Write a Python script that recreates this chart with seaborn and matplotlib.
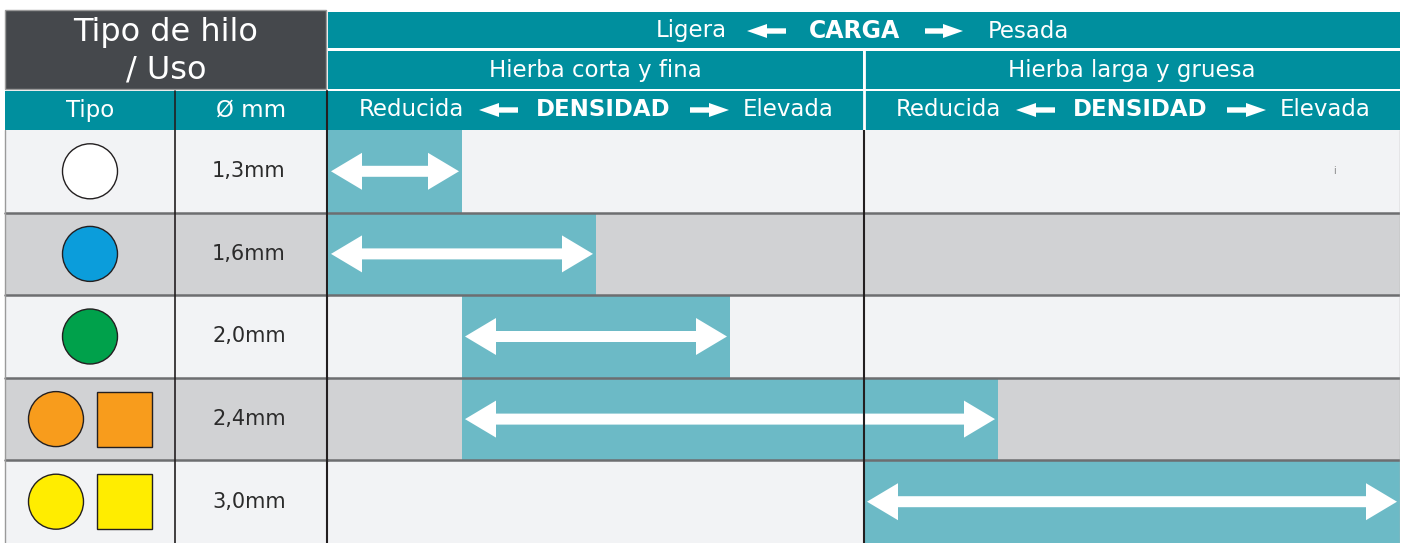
import matplotlib
matplotlib.use("Agg")
import matplotlib.pyplot as plt
from matplotlib.patches import Rectangle, Circle, Polygon
import seaborn as sns
import numpy as np

# datos de la tabla
diametros = ["1,3mm", "1,6mm", "2,0mm", "2,4mm", "3,0mm"]
colores_hilo = ["#FFFFFF", "#0B9DDB", "#00A14B", "#F89C1C", "#FFED00"]
con_cuadrado = [False, False, False, True, True]
inicio = [0, 0, 1, 1, 4]   # columna de densidad donde empieza el uso
fin = [1, 2, 3, 5, 8]      # columna donde termina
n_col = 8
tipos_hierba = ["Hierba corta y fina", "Hierba larga y gruesa"]

sns.set_style("white")
plt.rcParams['font.family'] = ['DejaVu Sans']

TEAL = "#008F9E"
BARRA = "#6CBAC6"
CLARO = "#F2F3F5"
GRIS = "#D1D2D4"
OSCURO = "#45484C"
TXT = "#2b2b2b"

W, H = 1407, 543
fig = plt.figure(figsize=(W / 100, H / 100), dpi=100)
ax0 = fig.add_axes([0, 0, 1, 1])
ax0.set_xlim(0, W)
ax0.set_ylim(H, 0)
ax0.axis('off')

top = 130
xb0, xb1 = 328, 1400
row_h = (H - top) / len(diametros)

# cabecera
ax0.add_patch(Rectangle((5, 10), 321, 79, color=OSCURO, ec="#9a9a9a", lw=1))
ax0.text(166, 33, "Tipo de hilo", color="white", fontsize=23, ha="center", va="center")
ax0.text(166, 70, "/ Uso", color="white", fontsize=23, ha="center", va="center")

ax0.add_patch(Rectangle((xb0, 12), xb1 - xb0, 36, color=TEAL, lw=0))
ax0.add_patch(Rectangle((xb0, 51), 535, 38, color=TEAL, lw=0))
ax0.add_patch(Rectangle((865, 51), xb1 - 865, 38, color=TEAL, lw=0))
ax0.add_patch(Rectangle((5, 91), xb1 - 5, 39, color=TEAL, lw=0))


def flecha(x_tail, x_tip, y, hl=20, hw=7, sw=2.7):
    d = np.sign(x_tip - x_tail)
    xb = x_tip - d * hl
    pts = [(x_tail, y - sw), (xb, y - sw), (xb, y - hw), (x_tip, y),
           (xb, y + hw), (xb, y + sw), (x_tail, y + sw)]
    ax0.add_patch(Polygon(pts, closed=True, color="white", lw=0))


fs = 16.5
ax0.text(691, 31, "Ligera", color="white", fontsize=fs, ha="center", va="center")
ax0.text(855, 31, "CARGA", color="white", fontsize=fs + 0.5, fontweight="bold", ha="center", va="center")
ax0.text(1028, 31, "Pesada", color="white", fontsize=fs, ha="center", va="center")
flecha(786, 747, 31)
flecha(925, 963, 31)

for k, nombre in enumerate(tipos_hierba):
    off = k * 537
    ax0.text(595 + off, 70, nombre, color="white", fontsize=fs, ha="center", va="center")
    ax0.text(411 + off, 110, "Reducida", color="white", fontsize=fs, ha="center", va="center")
    ax0.text(603 + off, 110, "DENSIDAD", color="white", fontsize=fs, fontweight="bold",
             ha="center", va="center")
    ax0.text(788 + off, 110, "Elevada", color="white", fontsize=fs, ha="center", va="center")
    flecha(518 + off, 479 + off, 110)
    flecha(690 + off, 729 + off, 110)

ax0.text(90, 110, "Tipo", color="white", fontsize=fs, ha="center", va="center")
ax0.text(251, 110, "Ø mm", color="white", fontsize=fs, ha="center", va="center")

# filas
for i, d in enumerate(diametros):
    y0 = top + i * row_h
    yc = y0 + row_h / 2
    fondo = GRIS if i % 2 else CLARO
    ax0.add_patch(Rectangle((5, y0), xb1 - 5, row_h, color=fondo, lw=0, zorder=0))
    ax0.text(249, yc, d, color=TXT, fontsize=15, ha="center", va="center")
    if con_cuadrado[i]:
        ax0.add_patch(Circle((56, yc), 27.5, fc=colores_hilo[i], ec="#231F20", lw=1))
        ax0.add_patch(Rectangle((97, yc - 27.5), 55, 55, fc=colores_hilo[i], ec="#231F20", lw=1))
    else:
        ax0.add_patch(Circle((90, yc), 27.5, fc=colores_hilo[i], ec="#231F20", lw=1))
    if i > 0:
        ax0.plot([5, xb0], [y0, y0], color="#6d6e70", lw=1.8, zorder=3)

ax0.plot([175, 175], [91, H], color="#231F20", lw=1.2, zorder=3)
ax0.plot([326.5, 326.5], [91, H], color="#231F20", lw=1.5, zorder=3)
ax0.plot([5, 5], [130, H], color="#9a9a9a", lw=1, zorder=3)
ax0.text(1334, 171, "i", color="#888888", fontsize=7, ha="center", va="center")

# zona de barras de densidad
axb = fig.add_axes([xb0 / W, 0, (xb1 - xb0) / W, (H - top) / H])
axb.patch.set_alpha(0)
filas = np.arange(len(diametros))
ancho = np.array(fin) - np.array(inicio)
axb.barh(filas, ancho, left=inicio, height=1, color=BARRA, lw=0, zorder=1)

px_col = (xb1 - xb0) / n_col
px_row = row_h
m, hl = 3 / px_col, 31 / px_col
hw, sw = 18.5 / px_row, 5.5 / px_row
for i in filas:
    x0, x1 = inicio[i] + m, fin[i] - m
    pts = [(x0, i), (x0 + hl, i - hw), (x0 + hl, i - sw), (x1 - hl, i - sw), (x1 - hl, i - hw),
           (x1, i), (x1 - hl, i + hw), (x1 - hl, i + sw), (x0 + hl, i + sw), (x0 + hl, i + hw)]
    axb.add_patch(Polygon(pts, closed=True, color="white", lw=0, zorder=2))

for i in filas[1:]:
    axb.axhline(i - 0.5, color="#6d6e70", lw=1.8, zorder=3)
axb.axvline(n_col // 2, color="#231F20", lw=1.5, zorder=3)
axb.axvline(n_col, color="#b0b0b0", lw=1, zorder=3)
axb.set_xlim(0, n_col)
axb.set_ylim(len(diametros) - 0.5, -0.5)
axb.axis('off')

# línea blanca entre las dos columnas de carga en la cabecera
ax0.plot([864, 864], [49, 130], color="white", lw=2, zorder=3)

fig.savefig("out.png", dpi=100)
